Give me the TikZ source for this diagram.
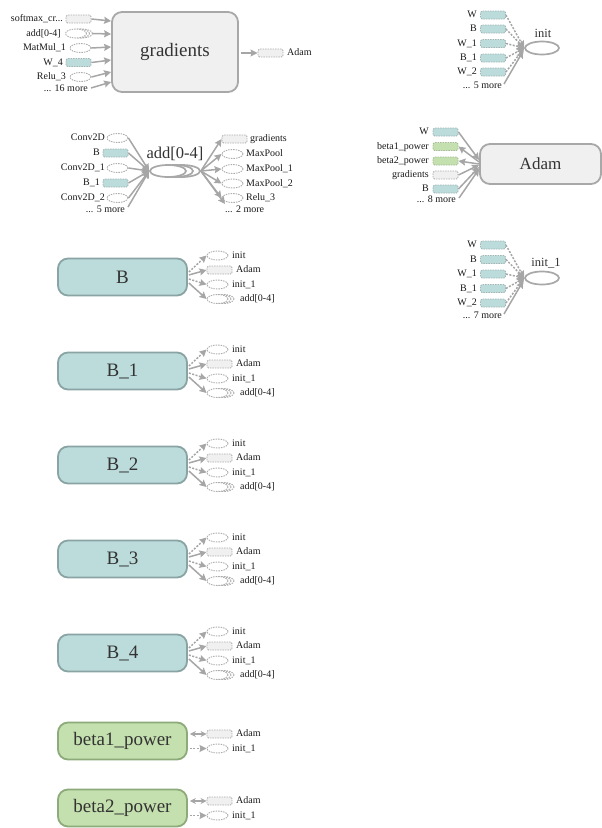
\documentclass[tikz,border=0pt]{standalone}
\usepackage{fontspec}
\setmainfont{Liberation Serif}
\usetikzlibrary{shapes.geometric,arrows.meta,calc}
\definecolor{gfill}{HTML}{F0F0F0}
\definecolor{gdraw}{HTML}{A8A8A8}
\definecolor{tfill}{HTML}{BCDBDB}
\definecolor{tdraw}{HTML}{8AA3A3}
\definecolor{efill}{HTML}{C4E0AE}
\definecolor{edraw}{HTML}{8DAA7A}
\definecolor{edgec}{HTML}{A6A6A6}
\definecolor{stubd}{HTML}{ADADAD}
\definecolor{txt}{HTML}{333333}
\tikzset{
  bigbox/.style={rounded corners=10pt, line width=1.8pt, inner sep=0, text=txt, font=\fontsize{19}{22}\selectfont},
  graybox/.style={bigbox, fill=gfill, draw=gdraw},
  tealbox/.style={bigbox, fill=tfill, draw=tdraw, minimum width=129, minimum height=37},
  greenbox/.style={bigbox, fill=efill, draw=edraw, minimum width=129, minimum height=37},
  stub/.style={draw=stubd, line width=0.9pt, dash pattern=on 1.5pt off 1pt, inner sep=0, minimum width=25, minimum height=8, rounded corners=1.5pt},
  gstub/.style={stub, fill=gfill},
  tstub/.style={stub, fill=tfill, draw=tdraw!80},
  estub/.style={stub, fill=efill, draw=edraw!80},
  ostub/.style={stub, sharp corners, ellipse, minimum width=21, minimum height=9, fill=white},
  opnode/.style={ellipse, draw=gdraw, line width=1.7pt, fill=white, minimum width=34, minimum height=13, inner sep=0},
  serell/.style={ellipse, draw=gdraw, line width=1.7pt, fill=white, minimum width=36, minimum height=12, inner sep=0},
  lbl/.style={font=\fontsize{10}{12}\selectfont, inner sep=0, text=black!90, text height=7pt, text depth=2pt},
  mid/.style={font=\fontsize{12.5}{14}\selectfont, inner sep=0, text=txt},
  edge/.style={draw=edgec, line width=1.5pt, -{Stealth[length=7pt,width=7pt,inset=1pt]}},
  bedge/.style={draw=edgec, line width=1.5pt, {Stealth[length=6pt,width=6pt]}-{Stealth[length=6pt,width=6pt]}},
  ctrl/.style={edge, dash pattern=on 2pt off 1.5pt},
}
\begin{document}
\begin{tikzpicture}[x=1pt,y=-1pt]
\useasboundingbox (0,0) rectangle (602,828);

% ---------------- gradients ----------------
\node[graybox, minimum width=126, minimum height=80] (grad) at (175,52) {gradients};
\node[gstub] (gi1) at (78.5,19) {};
\node[lbl, anchor=east] (gi1l) at (63,19) {softmax\_cr...};
\node[ostub] (gi2c) at (82,33.5) {};
\node[ostub] (gi2b) at (79,33.5) {};
\node[ostub] (gi2) at (76,33.5) {};
\node[lbl, anchor=east] (gi2l) at (61,33.5) {add[0-4]};
\node[ostub] (gi3) at (80.5,48) {};
\node[lbl, anchor=east] (gi3l) at (66,48) {MatMul\_1};
\node[tstub] (gi4) at (78.5,62.5) {};
\node[lbl, anchor=east] (gi4l) at (63,62.5) {W\_4};
\node[ostub] (gi5) at (80.5,77) {};
\node[lbl, anchor=east] (gi5l) at (66,77) {Relu\_3};
\node[lbl, anchor=east] (gi6l) at (88,89) {... 16 more};
\draw[edge] (gi1.east) -- ($(grad.west)+(0,-31)$);
\draw[edge] (gi2c.east) -- ($(grad.west)+(0,-18)$);
\draw[edge] (gi3.east) -- ($(grad.west)+(0,-5)$);
\draw[edge] (gi4.east) -- ($(grad.west)+(0,8)$);
\draw[edge] (gi5.east) -- ($(grad.west)+(0,20)$);
\draw[edge] ($(gi6l.east)+(3,-1)$) -- ($(grad.west)+(0,30)$);
\node[gstub] (go1) at (270.5,53) {};
\node[lbl, anchor=west] (go1l) at (287,53) {Adam};
\draw[edge] ($(grad.east)+(2,1)$) -- (go1.west);

% ---------------- init ----------------
\node[opnode] (init) at (542,48) {};
\node[mid] (initt) at (543,33) {init};
\foreach \lab/\yy/\k in {W/15/a, B/29/b, W\_1/43.5/c, B\_1/58/d, W\_2/72/e}{
  \node[tstub] (init-\k) at (493,\yy) {};
  \node[lbl, anchor=east] (init-\k-l) at (477,\yy) {\lab};
  \draw[ctrl] (init-\k.east) -- (init.west);
}
\node[lbl, anchor=east] (init-m) at (502,86) {... 5 more};
\draw[edge] ($(init-m.east)+(2,-2)$) -- ($(init.west)+(-1,3)$);

% ---------------- init_1 ----------------
\node[opnode] (initb) at (542,278) {};
\node[mid] (initbt) at (546,263) {init\_1};
\foreach \lab/\yy/\k in {W/245/a, B/259.5/b, W\_1/274/c, B\_1/288.5/d, W\_2/303/e}{
  \node[tstub] (initb-\k) at (493,\yy) {};
  \node[lbl, anchor=east] (initb-\k-l) at (477,\yy) {\lab};
  \draw[ctrl] (initb-\k.east) -- (initb.west);
}
\node[lbl, anchor=east] (initb-m) at (502,316) {... 7 more};
\draw[edge] ($(initb-m.east)+(2,-2)$) -- ($(initb.west)+(-1,3)$);

% ---------------- add[0-4] ----------------
\node[serell] (addc) at (182,171) {};
\node[serell] (addb) at (175,171) {};
\node[serell] (add) at (168,171) {};
\node[font=\fontsize{16.5}{18}\selectfont, inner sep=0, text=txt] (addt) at (175,154) {add[0-4]};
\node[ostub] (ai1) at (117.5,138) {};
\node[lbl, anchor=east] (ai1l) at (105,138) {Conv2D};
\node[tstub] (ai2) at (115.5,153) {};
\node[lbl, anchor=east] (ai2l) at (100,153) {B};
\node[ostub] (ai3) at (117.5,168) {};
\node[lbl, anchor=east] (ai3l) at (105,168) {Conv2D\_1};
\node[tstub] (ai4) at (115.5,183) {};
\node[lbl, anchor=east] (ai4l) at (100,183) {B\_1};
\node[ostub] (ai5) at (117.5,198) {};
\node[lbl, anchor=east] (ai5l) at (105,198) {Conv2D\_2};
\node[lbl, anchor=east] (ai6l) at (125,210) {... 5 more};
\foreach \k in {ai1,ai2,ai3,ai4,ai5}{ \draw[edge] (\k.east) -- (add.west); }
\draw[edge] ($(ai6l.east)+(3,-3)$) -- (add.west);
\node[gstub] (ao1) at (234.5,139) {};
\node[lbl, anchor=west] (ao1l) at (250,139) {gradients};
\node[ostub] (ao2) at (232.5,154) {};
\node[lbl, anchor=west] (ao2l) at (246,154) {MaxPool};
\node[ostub] (ao3) at (232.5,169) {};
\node[lbl, anchor=west] (ao3l) at (246,169) {MaxPool\_1};
\node[ostub] (ao4) at (232.5,183.5) {};
\node[lbl, anchor=west] (ao4l) at (246,183.5) {MaxPool\_2};
\node[ostub] (ao5) at (232.5,198) {};
\node[lbl, anchor=west] (ao5l) at (246,198) {Relu\_3};
\node[lbl, anchor=west] (ao6l) at (225,210) {... 2 more};
\foreach \k in {ao1,ao2,ao3,ao4,ao5}{ \draw[edge] (addc.east) -- (\k.west); }
\draw[edge] (addc.east) -- ($(ao6l.west)+(0,-6)$);

% ---------------- Adam ----------------
\node[graybox, minimum width=121, minimum height=40, font=\fontsize{17}{20}\selectfont] (adam) at (540.5,164) {Adam};
\node[tstub] (ad1) at (445.5,132) {};
\node[lbl, anchor=east] (ad1l) at (429,132) {W};
\node[estub] (ad2) at (445.5,146.5) {};
\node[lbl, anchor=east] (ad2l) at (429,146.5) {beta1\_power};
\node[estub] (ad3) at (445.5,161) {};
\node[lbl, anchor=east] (ad3l) at (429,161) {beta2\_power};
\node[gstub] (ad4) at (445.5,175) {};
\node[lbl, anchor=east] (ad4l) at (429,175) {gradients};
\node[tstub] (ad5) at (445.5,189) {};
\node[lbl, anchor=east] (ad5l) at (429,189) {B};
\node[lbl, anchor=east] (ad6l) at (456,200) {... 8 more};
\draw[edge] (ad1.east) -- ($(adam.west)+(0,-4)$);
\draw[edge] ($(adam.west)+(0,-2)$) -- (ad2.east);
\draw[edge] ($(adam.west)+(0,0)$) -- (ad3.east);
\draw[edge] (ad4.east) -- ($(adam.west)+(0,1)$);
\draw[edge] (ad5.east) -- ($(adam.west)+(0,3)$);
\draw[edge] ($(ad6l.east)+(3,-2)$) -- ($(adam.west)+(0,5)$);

% ---------------- B blocks ----------------
\foreach \n/\t/\yy in {B/B/277, Ba/B\_1/371, Bb/B\_2/465, Bc/B\_3/559, Bd/B\_4/653}{
  \node[tealbox] (\n) at (122.5,\yy) {\t};
  \node[ostub] (\n-i) at (217.5,\yy-21.5) {};
  \node[lbl, anchor=west] (\n-il) at (232,\yy-21.5) {init};
  \node[gstub] (\n-a) at (219.5,\yy-7) {};
  \node[lbl, anchor=west] (\n-al) at (236,\yy-7) {Adam};
  \node[ostub] (\n-j) at (217.5,\yy+7.5) {};
  \node[lbl, anchor=west] (\n-jl) at (232,\yy+7.5) {init\_1};
  \node[ostub] (\n-sc) at (223.5,\yy+22) {};
  \node[ostub] (\n-sb) at (220.5,\yy+22) {};
  \node[ostub] (\n-s) at (217.5,\yy+22) {};
  \node[lbl, anchor=west] (\n-sl) at (240,\yy+22) {add[0-4]};
  \draw[ctrl] ($(\n.east)+(1,-5)$) -- (\n-i.west);
  \draw[edge] ($(\n.east)+(1,-2)$) -- (\n-a.west);
  \draw[ctrl] ($(\n.east)+(1,2)$) -- (\n-j.west);
  \draw[edge] ($(\n.east)+(1,6)$) -- (\n-s.west);
}

% ---------------- beta blocks ----------------
\foreach \n/\t/\yy in {bp/beta1\_power/741, bq/beta2\_power/808}{
  \node[greenbox] (\n) at (122.5,\yy) {\t};
  \node[gstub] (\n-a) at (219.5,\yy-7) {};
  \node[lbl, anchor=west] (\n-al) at (236,\yy-7) {Adam};
  \node[ostub] (\n-j) at (217.5,\yy+7.5) {};
  \node[lbl, anchor=west] (\n-jl) at (232,\yy+7.5) {init\_1};
  \draw[bedge] ($(\n.east)+(2,-7)$) -- (\n-a.west);
  \draw[ctrl] ($(\n.east)+(2,7.5)$) -- (\n-j.west);
}
\end{tikzpicture}
\end{document}
